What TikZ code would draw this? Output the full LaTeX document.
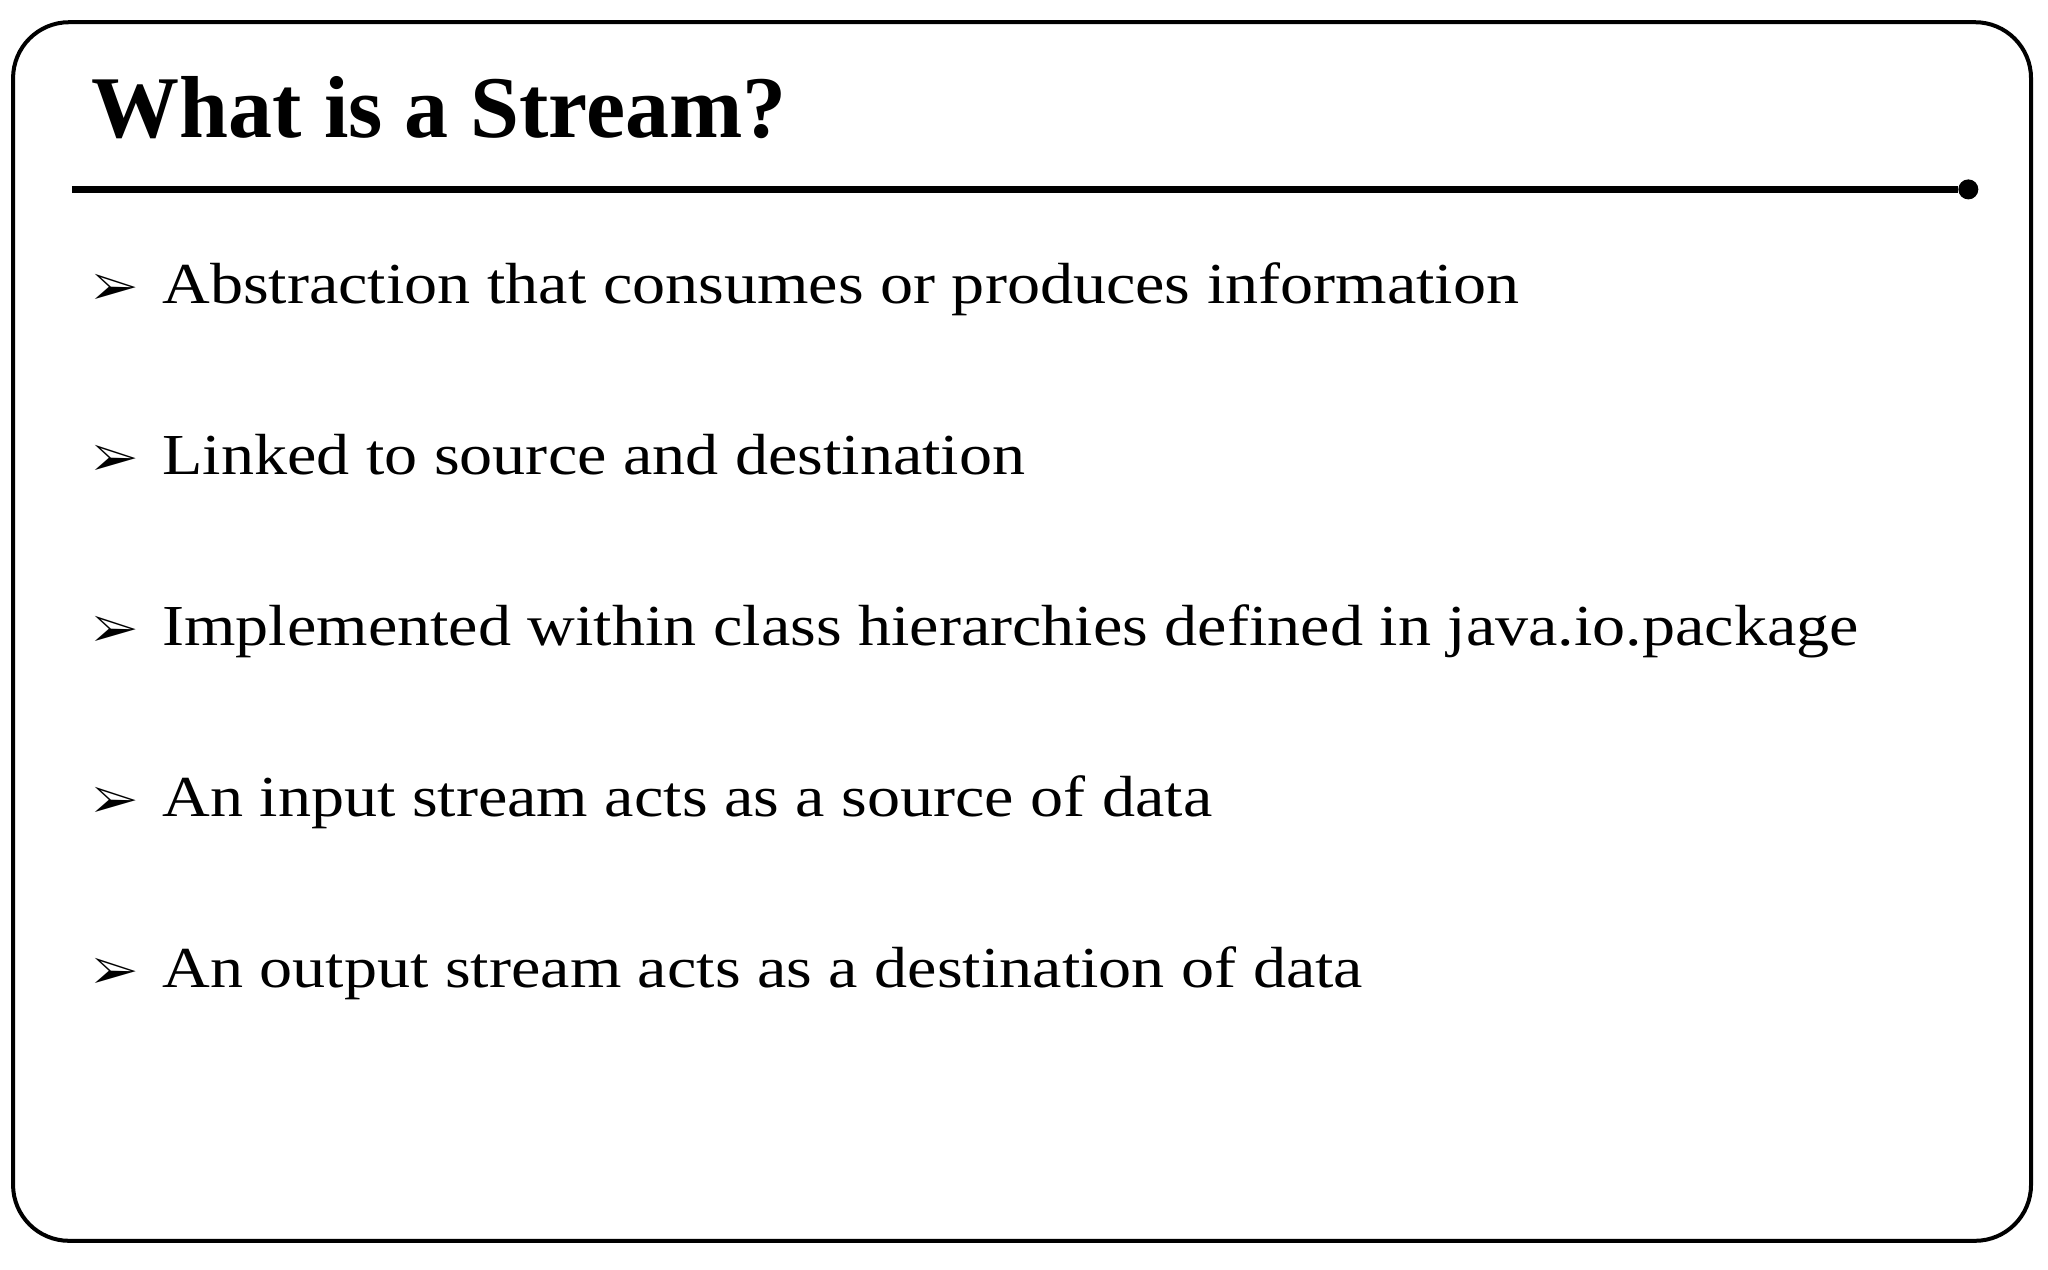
\documentclass[tikz,border=0pt]{standalone}
\usepackage{fontspec,pifont}
\setmainfont{Liberation Serif}
\newfontfamily\bodyfont[FakeStretch=1.14]{Liberation Serif}
\usetikzlibrary{positioning}

\begin{document}
\begin{tikzpicture}[x=0.6531pt, y=-0.6531pt]
  \newcommand{\pointgap}[0]{131}
  \tikzstyle{title}  = [anchor=base west, inner sep=0pt, font=\fontsize{44}{48}\selectfont\bfseries]
  \tikzstyle{point}  = [anchor=base west, inner sep=0pt, font=\bodyfont\fontsize{29}{34}\selectfont]
  \tikzstyle{marker} = [anchor=base west, inner sep=0pt, font=\fontsize{24}{28}\selectfont]

  \useasboundingbox (0,0) rectangle (1568,972);
  \draw [line width=2pt, rounded corners=28pt] (10,17) rectangle (1555,950);

  \node [title] (heading) at (70,105) {What is a Stream?};
  \coordinate (rulestart) at (55,145);
  \node [circle, fill=black, inner sep=0pt, minimum size=10pt] (ruleend) at (1507,145) {};
  \draw [line width=3.2pt] (rulestart) -- (ruleend);

  \node [point] (abstraction) at (124,232)            {Abstraction that consumes or produces information};
  \node [point] (linked)      at (124,232+\pointgap)   {Linked to source and destination};
  \node [point] (implemented) at (124,232+2*\pointgap) {Implemented within class hierarchies defined in java.io.package};
  \node [point] (input)       at (124,232+3*\pointgap) {An input stream acts as a source of data};
  \node [point] (output)      at (124,232+4*\pointgap) {An output stream acts as a destination of data};

  \node [marker, left=12pt of abstraction.base west, anchor=base east] (m1) {\ding{226}};
  \node [marker, left=12pt of linked.base west, anchor=base east]      (m2) {\ding{226}};
  \node [marker, left=12pt of implemented.base west, anchor=base east] (m3) {\ding{226}};
  \node [marker, left=12pt of input.base west, anchor=base east]       (m4) {\ding{226}};
  \node [marker, left=12pt of output.base west, anchor=base east]      (m5) {\ding{226}};
\end{tikzpicture}
\end{document}
